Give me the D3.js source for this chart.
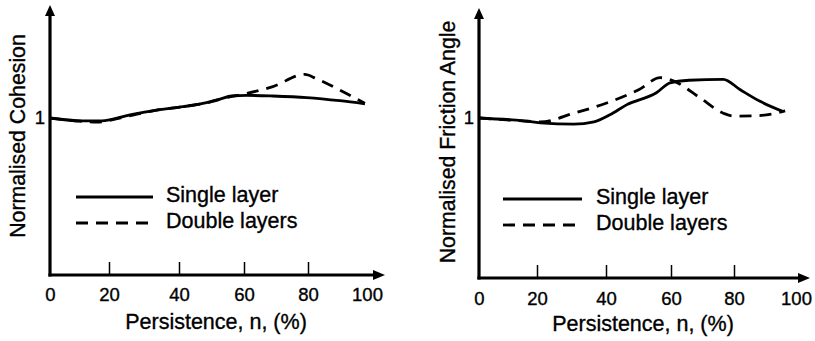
<!DOCTYPE html>
<html>
<head>
<meta charset="utf-8">
<script src="https://cdn.jsdelivr.net/npm/d3@7"></script>
<style>
  html, body { margin: 0; padding: 0; background: #fff; }
  svg { display: block; }
  text { font-family: "Liberation Sans", Arial, Helvetica, sans-serif; fill: #000; stroke: #000; stroke-width: 0.35px; }
</style>
</head>
<body>
<svg id="chart" width="815" height="341"></svg>
<script>
// ---- data ----
const xTicks = [0, 20, 40, 60, 80, 100];

// left panel: normalised cohesion
const cohesionSingleN = [0, 11, 17.5, 26, 33.6, 41.3, 48.5, 52.6, 56.2, 60.8, 69, 79.6, 90.8, 99.3];
const cohesionSingleV = [1.0, 0.991, 0.991, 1.01, 1.025, 1.036, 1.049, 1.06, 1.07, 1.072, 1.07, 1.065, 1.055, 1.045];
const cohesionDoubleN = [0, 10, 16, 25, 33.6, 41.3, 48.5, 55, 60.8, 69, 79, 82.7, 90.8, 99.3];
const cohesionDoubleV = [1.0, 0.99, 0.987, 1.005, 1.025, 1.036, 1.048, 1.066, 1.078, 1.10, 1.139, 1.126, 1.089, 1.047];

// right panel: normalised friction angle
const frictionSingleN = [0, 15.3, 21, 30.7, 36.5, 41.2, 46.3, 55.5, 59.7, 65.7, 76.6, 81.9, 88.4, 95.9];
const frictionSingleV = [1.0, 0.991, 0.985, 0.981, 0.988, 1.01, 1.041, 1.079, 1.11, 1.118, 1.121, 1.089, 1.052, 1.02];
const frictionDoubleN = [0, 15, 21, 30.7, 40.2, 50.2, 56.7, 60.7, 69.2, 76.6, 79.8, 87.3, 96.5];
const frictionDoubleV = [1.0, 0.991, 0.988, 1.015, 1.047, 1.089, 1.126, 1.116, 1.063, 1.015, 1.006, 1.007, 1.022];

const legendLabels = ['Single layer', 'Double layers'];

const svg = d3.select('#chart');

/**
 * one panel: hand-drawn style axes with arrows, two curves, legend
 */
function drawPanel(cfg) {
  const g = svg.append('g');

  // x scale is not evenly spaced in the original drawing
  const x = d3.scaleLinear().domain(xTicks).range(cfg.xRange);
  const y = d3.scaleLinear().domain([0.5, 1]).range([cfg.y0, cfg.y1]);

  // curves
  const line = d3.line()
    .x((d) => x(d[0]))
    .y((d) => y(d[1]))
    .curve(d3.curveMonotoneX);

  const single = cfg.singleN.map((n, i) => [n, cfg.singleV[i]]);
  const double = cfg.doubleN.map((n, i) => [n, cfg.doubleV[i]]);

  g.append('path')
    .datum(single)
    .attr('d', line)
    .attr('fill', 'none')
    .attr('stroke', '#000')
    .attr('stroke-width', 2.8)
    .attr('stroke-linejoin', 'round');

  g.append('path')
    .datum(double)
    .attr('d', line)
    .attr('fill', 'none')
    .attr('stroke', '#000')
    .attr('stroke-width', 2.8)
    .attr('stroke-dasharray', '12,8');

  // x axis ticks (pointing up) + labels
  const axis = d3.axisBottom(x)
    .tickValues(xTicks)
    .tickFormat(d3.format('d'))
    .tickSizeInner(-13)
    .tickSizeOuter(0)
    .tickPadding(cfg.tickPad);

  const ax = g.append('g')
    .attr('transform', `translate(0,${cfg.y0})`)
    .call(axis);
  ax.select('.domain').remove();
  ax.selectAll('.tick line')
    .attr('stroke', '#000')
    .attr('stroke-width', 1.5)
    .filter((d) => d === 0 || d === 100)
    .remove();
  ax.selectAll('.tick text')
    .attr('font-size', 18.5)
    .attr('font-family', '"Liberation Sans", Arial, sans-serif')
    .attr('fill', '#000');

  // main axes with arrow heads
  const ox = cfg.xRange[0];
  g.append('line')
    .attr('x1', ox).attr('y1', cfg.y0 + 1.5)
    .attr('x2', ox).attr('y2', cfg.arrowTop + 8)
    .attr('stroke', '#000').attr('stroke-width', 3.2);
  g.append('path')
    .attr('d', `M${ox - 5},${cfg.arrowTop + 11}L${ox},${cfg.arrowTop}L${ox + 5},${cfg.arrowTop + 11}Z`)
    .attr('fill', '#000');

  g.append('line')
    .attr('x1', ox - 1.6).attr('y1', cfg.y0)
    .attr('x2', cfg.arrowRight - 8).attr('y2', cfg.y0)
    .attr('stroke', '#000').attr('stroke-width', 3.2);
  g.append('path')
    .attr('d', `M${cfg.arrowRight - 12},${cfg.y0 - 5}L${cfg.arrowRight},${cfg.y0}L${cfg.arrowRight - 12},${cfg.y0 + 5}Z`)
    .attr('fill', '#000');

  // "1" on the y axis
  g.append('text')
    .attr('x', ox - 10)
    .attr('y', y(1))
    .attr('dy', '0.35em')
    .attr('text-anchor', 'middle')
    .attr('font-size', 18.5)
    .text('1');

  // axis titles
  g.append('text')
    .attr('x', cfg.xTitleX)
    .attr('y', cfg.xTitleY)
    .attr('text-anchor', 'middle')
    .attr('font-size', 21.5)
    .text('Persistence, n, (%)');

  g.append('text')
    .attr('transform', `translate(${cfg.yTitleX},${cfg.yTitleY}) rotate(-90)`)
    .attr('text-anchor', 'middle')
    .attr('font-size', 21.3)
    .text(cfg.yTitle);

  // legend
  const lg = g.append('g');
  lg.append('line')
    .attr('x1', cfg.legX1).attr('x2', cfg.legX2)
    .attr('y1', cfg.legY[0]).attr('y2', cfg.legY[0])
    .attr('stroke', '#000').attr('stroke-width', 2.8);
  lg.append('line')
    .attr('x1', cfg.legX1).attr('x2', cfg.legX2)
    .attr('y1', cfg.legY[1]).attr('y2', cfg.legY[1])
    .attr('stroke', '#000').attr('stroke-width', 2.8)
    .attr('stroke-dasharray', '12,8');
  lg.selectAll('text.leg')
    .data(legendLabels)
    .enter()
    .append('text')
    .attr('class', 'leg')
    .attr('x', cfg.legTextX)
    .attr('y', (d, i) => cfg.legY[i] + 5)
    .attr('font-size', 21.5)
    .text((d) => d);
}

drawPanel({
  xRange: [50, 109, 179, 244, 308, 367],
  y0: 275, y1: 118,
  arrowTop: 5, arrowRight: 385,
  tickPad: 13,
  singleN: cohesionSingleN, singleV: cohesionSingleV,
  doubleN: cohesionDoubleN, doubleV: cohesionDoubleV,
  xTitleX: 216, xTitleY: 329,
  yTitle: 'Normalised Cohesion', yTitleX: 25, yTitleY: 136,
  legX1: 76, legX2: 153, legTextX: 166, legY: [197, 223]
});

drawPanel({
  xRange: [479, 537, 606, 671, 734, 796],
  y0: 278, y1: 118,
  arrowTop: 8, arrowRight: 810,
  tickPad: 14,
  singleN: frictionSingleN, singleV: frictionSingleV,
  doubleN: frictionDoubleN, doubleV: frictionDoubleV,
  xTitleX: 643, xTitleY: 331,
  yTitle: 'Normalised Friction Angle', yTitleX: 455, yTitleY: 142,
  legX1: 503, legX2: 582, legTextX: 596, legY: [199, 225]
});
</script>
</body>
</html>
